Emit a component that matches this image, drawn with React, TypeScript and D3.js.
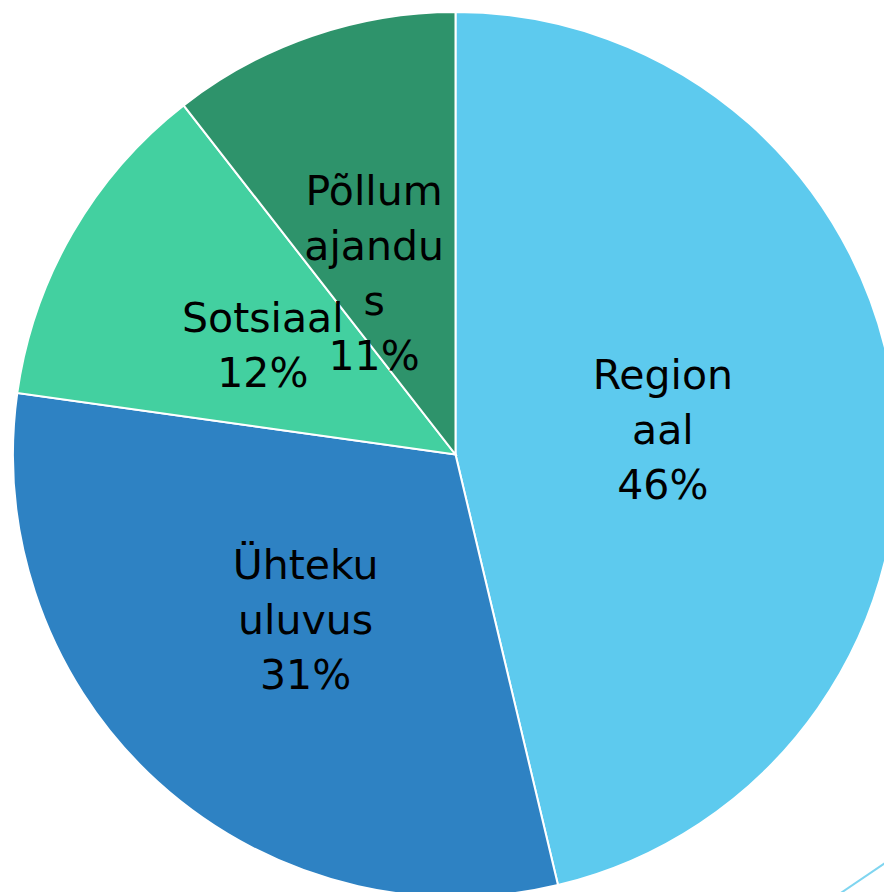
import React, { useEffect } from "react";
import * as d3 from "d3";

const categories = ["Regionaal", "Ühtekuuluvus", "Sotsiaal", "Põllumajandus"];
const values = [46.28, 30.94, 12.25, 10.53];
const labelLines = [["Region", "aal"], ["Ühteku", "uluvus"], ["Sotsiaal"], ["Põllum", "ajandu", "s"]];
const colors = ["#5DCAEE", "#2E82C3", "#43D0A0", "#2E936B"];
const labelNudge = [[-8, 1], [-4, 5], [-5, 0], [-11, 24]];

const W = 884;
const H = 892;
const cx = 455.5;
const cy = 454.5;
const R = 442.5;
const FS = 41;
const LH = 55;

export default function App() {
  useEffect(() => {
    document.body.style.margin = "0";
  }, []);

  const data = categories.map((c, i) => ({ name: c, value: values[i], i }));
  const pie = d3.pie<any>().sort(null).value((d) => d.value);
  const arcs = pie(data);
  const arc = d3.arc<any>().innerRadius(0).outerRadius(R);
  const labelArc = d3.arc<any>().innerRadius(R * 0.98).outerRadius(0);
  const total = d3.sum(values);

  return (
    <svg width={W} height={H} style={{ display: "block", position: "absolute", left: 0, top: 0 }}>
      <rect width={W} height={H} fill="#ffffff" />
      <line x1={826} y1={903} x2={900} y2={853} stroke="#7FD5F0" strokeWidth={2} />
      <g transform={`translate(${cx},${cy})`}>
        {arcs.map((a, k) => (
          <path key={k} d={arc(a) as string} fill={colors[k]} stroke="#ffffff" strokeWidth={2} />
        ))}
        {arcs.map((a, k) => {
          const [lx, ly] = labelArc.centroid(a);
          const x = lx + labelNudge[k][0];
          const y = ly + labelNudge[k][1];
          const lines = [...labelLines[k], `${Math.round((values[k] / total) * 100)}%`];
          const n = lines.length;
          const firstBase = y - ((n - 1) * LH) / 2 + 14;
          return (
            <text
              key={`t${k}`}
              textAnchor="middle"
              fontFamily="'DejaVu Sans', Verdana, sans-serif"
              fontSize={FS}
              fill="#000000"
            >
              {lines.map((ln, j) => (
                <tspan key={j} x={x} y={firstBase + j * LH}>
                  {ln}
                </tspan>
              ))}
            </text>
          );
        })}
      </g>
    </svg>
  );
}
